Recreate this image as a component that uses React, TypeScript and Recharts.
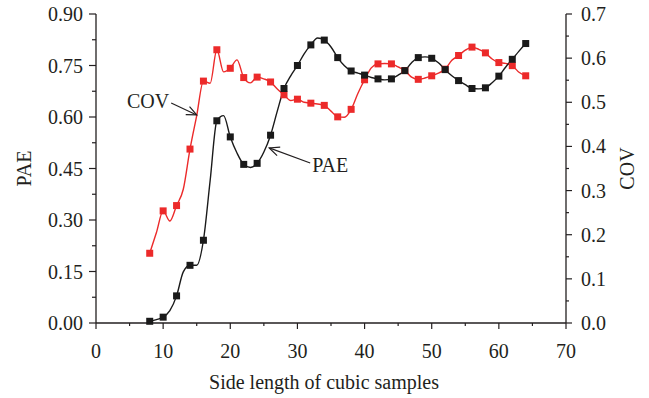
import React from 'react';
import { LineChart, Line, XAxis, YAxis, ReferenceLine } from 'recharts';

const sideLength = [8, 9, 10, 11, 12, 13, 14, 15, 16, 17, 18, 19, 20, 21, 22, 23, 24, 25, 26, 27, 28, 29, 30, 31, 32, 33, 34, 35, 36, 37, 38, 39, 40, 41, 42, 43, 44, 45, 46, 47, 48, 49, 50, 51, 52, 53, 54, 55, 56, 57, 58, 59, 60, 61, 62, 63, 64];
const paeValues = [0.005, 0.010, 0.017, 0.036, 0.079, 0.149, 0.168, 0.168, 0.241, 0.415, 0.589, 0.604, 0.542, 0.495, 0.462, 0.453, 0.465, 0.498, 0.547, 0.617, 0.683, 0.720, 0.750, 0.784, 0.810, 0.830, 0.824, 0.804, 0.773, 0.749, 0.734, 0.728, 0.722, 0.715, 0.711, 0.708, 0.711, 0.722, 0.735, 0.758, 0.773, 0.775, 0.771, 0.758, 0.738, 0.720, 0.706, 0.694, 0.683, 0.682, 0.685, 0.700, 0.719, 0.745, 0.768, 0.792, 0.814];
const covValues = [0.158, 0.205, 0.254, 0.231, 0.266, 0.303, 0.394, 0.470, 0.548, 0.543, 0.619, 0.569, 0.577, 0.596, 0.556, 0.544, 0.557, 0.553, 0.546, 0.530, 0.517, 0.504, 0.507, 0.500, 0.498, 0.496, 0.493, 0.480, 0.467, 0.466, 0.484, 0.520, 0.551, 0.578, 0.587, 0.588, 0.587, 0.580, 0.572, 0.557, 0.552, 0.555, 0.560, 0.566, 0.575, 0.595, 0.606, 0.618, 0.625, 0.620, 0.612, 0.598, 0.590, 0.588, 0.583, 0.568, 0.560];

const xTicks = [0, 5, 10, 15, 20, 25, 30, 35, 40, 45, 50, 55, 60, 65, 70];
const paeTicks = [0, 0.075, 0.15, 0.225, 0.3, 0.375, 0.45, 0.525, 0.6, 0.675, 0.75, 0.825, 0.9];
const covTicks = [0, 0.05, 0.1, 0.15, 0.2, 0.25, 0.3, 0.35, 0.4, 0.45, 0.5, 0.55, 0.6, 0.65, 0.7];

const xTitle = 'Side length of cubic samples';
const paeTitle = 'PAE';
const covTitle = 'COV';

const data = sideLength.map((x, i) => ({ x, pae: paeValues[i], cov: covValues[i] }));

const FONT = '"Liberation Serif", "Times New Roman", serif';
const INK = '#231f20';
const RED = '#ec2a2a';
const BLACK = '#1a1a1a';
const FS = 20;

const isMajor = (ticks: number[], v: number) => {
  const i = ticks.findIndex((t) => Math.abs(t - v) < 1e-9);
  return i % 2 === 0;
};

const LeftTick = (props: any) => {
  const { x, y, payload } = props;
  const major = isMajor(paeTicks, payload.value);
  const len = major ? 7 : 4;
  return (
    <g>
      <line x1={x} y1={y} x2={x - len} y2={y} stroke={INK} strokeWidth={1.2} />
      {major && (
        <text x={x - 13} y={y} textAnchor="end" dominantBaseline="central" fontFamily={FONT} fontSize={FS} fill={INK}>
          {payload.value.toFixed(2)}
        </text>
      )}
    </g>
  );
};

const RightTick = (props: any) => {
  const { x, y, payload } = props;
  const major = isMajor(covTicks, payload.value);
  const len = major ? 6 : 3;
  return (
    <g>
      <line x1={x} y1={y} x2={x + len} y2={y} stroke={INK} strokeWidth={1.2} />
      {major && (
        <text x={x + 15} y={y} textAnchor="start" dominantBaseline="central" fontFamily={FONT} fontSize={FS} fill={INK}>
          {payload.value.toFixed(1)}
        </text>
      )}
    </g>
  );
};

const BottomTick = (props: any) => {
  const { x, y, payload } = props;
  const major = isMajor(xTicks, payload.value);
  const len = major ? 6 : 3;
  return (
    <g>
      <line x1={x} y1={y} x2={x} y2={y + len} stroke={INK} strokeWidth={1.2} />
      {major && (
        <text x={x} y={y + 28} textAnchor="middle" dominantBaseline="central" fontFamily={FONT} fontSize={FS} fill={INK}>
          {String(payload.value)}
        </text>
      )}
    </g>
  );
};

const TopTick = (props: any) => {
  const { x, y } = props;
  return <line x1={x} y1={y} x2={x} y2={y - 4} stroke={INK} strokeWidth={1.2} />;
};

const squareDot = (color: string) => (props: any) => {
  const { cx, cy, payload, index } = props;
  if (payload.x % 2 !== 0 || cx == null || cy == null) return <g key={`d${index}`} />;
  const s = 7;
  return <rect key={`d${index}`} x={cx - s / 2} y={cy - s / 2} width={s} height={s} fill={color} />;
};

const arrowShape = (text: string, side: 'left' | 'right') => (props: any) => {
  const { x1, y1, x2, y2 } = props;
  if (x1 == null) return <g />;
  const ang = Math.atan2(y2 - y1, x2 - x1);
  const L = 11;
  const spread = 0.42;
  const a1x = x2 - L * Math.cos(ang - spread);
  const a1y = y2 - L * Math.sin(ang - spread);
  const a2x = x2 - L * Math.cos(ang + spread);
  const a2y = y2 - L * Math.sin(ang + spread);
  return (
    <g>
      <line x1={x1} y1={y1} x2={x2} y2={y2} stroke={INK} strokeWidth={1.2} />
      <polyline points={`${a1x},${a1y} ${x2},${y2} ${a2x},${a2y}`} fill="none" stroke={INK} strokeWidth={1.2} />
      <text
        x={side === 'left' ? x1 - 2 : x1 + 2}
        y={side === 'left' ? y1 - 2 : y1 + 2}
        textAnchor={side === 'left' ? 'end' : 'start'}
        dominantBaseline="central"
        fontFamily={FONT}
        fontSize={FS}
        fill={INK}
      >
        {text}
      </text>
    </g>
  );
};

const leftTitle = (p: any) => {
  const vb = p.viewBox;
  const cx = vb.x + 24;
  const cy = vb.y + vb.height / 2;
  return (
    <text x={cx} y={cy} transform={`rotate(-90 ${cx} ${cy})`} textAnchor="middle" dominantBaseline="central" fontFamily={FONT} fontSize={FS} fill={INK}>
      {paeTitle}
    </text>
  );
};

const rightTitle = (p: any) => {
  const vb = p.viewBox;
  const cx = vb.x + 61;
  const cy = vb.y + vb.height / 2;
  return (
    <text x={cx} y={cy} transform={`rotate(-90 ${cx} ${cy})`} textAnchor="middle" dominantBaseline="central" fontFamily={FONT} fontSize={FS} fill={INK}>
      {covTitle}
    </text>
  );
};

const bottomTitle = (p: any) => {
  const vb = p.viewBox;
  return (
    <text x={vb.x + vb.width / 2 - 7} y={vb.y + 59} textAnchor="middle" dominantBaseline="central" fontFamily={FONT} fontSize={FS} fill={INK}>
      {xTitle}
    </text>
  );
};

export default function App() {
  return (
    <div style={{ position: 'absolute', left: 0, top: 0, background: '#fff' }}>
      <LineChart width={649} height={398} data={data} margin={{ top: 14, right: 0, left: 0, bottom: 0 }}>
        <XAxis
          xAxisId="bottom"
          dataKey="x"
          type="number"
          domain={[0, 70]}
          ticks={xTicks}
          interval={0}
          height={75}
          tickSize={0}
          tickMargin={0}
          tick={BottomTick}
          axisLine={{ stroke: INK, strokeWidth: 1.3 }}
          tickLine={false}
          label={bottomTitle}
        />
        <XAxis
          xAxisId="top"
          orientation="top"
          dataKey="x"
          type="number"
          domain={[0, 70]}
          ticks={xTicks}
          interval={0}
          height={0}
          tickSize={0}
          tickMargin={0}
          tick={TopTick}
          axisLine={{ stroke: INK, strokeWidth: 1.3 }}
          tickLine={false}
        />
        <YAxis
          yAxisId="pae"
          orientation="left"
          type="number"
          domain={[0, 0.9]}
          ticks={paeTicks}
          interval={0}
          width={96}
          tickSize={0}
          tickMargin={0}
          tick={LeftTick}
          axisLine={{ stroke: INK, strokeWidth: 1.3 }}
          tickLine={false}
          label={leftTitle}
        />
        <YAxis
          yAxisId="cov"
          orientation="right"
          type="number"
          domain={[0, 0.7]}
          ticks={covTicks}
          interval={0}
          width={83}
          tickSize={0}
          tickMargin={0}
          tick={RightTick}
          axisLine={{ stroke: INK, strokeWidth: 1.3 }}
          tickLine={false}
          label={rightTitle}
        />
        <Line
          xAxisId="bottom"
          yAxisId="cov"
          dataKey="cov"
          type="monotone"
          stroke={RED}
          strokeWidth={1.4}
          dot={squareDot(RED)}
          activeDot={false}
          isAnimationActive={false}
        />
        <Line
          xAxisId="bottom"
          yAxisId="pae"
          dataKey="pae"
          type="monotone"
          stroke={BLACK}
          strokeWidth={1.4}
          dot={squareDot(BLACK)}
          activeDot={false}
          isAnimationActive={false}
        />
        <ReferenceLine
          xAxisId="bottom"
          yAxisId="pae"
          segment={[{ x: 11.2, y: 0.641 }, { x: 15.0, y: 0.606 }]}
          shape={arrowShape(covTitle, 'left')}
        />
        <ReferenceLine
          xAxisId="bottom"
          yAxisId="pae"
          segment={[{ x: 31.9, y: 0.466 }, { x: 25.8, y: 0.51 }]}
          shape={arrowShape(paeTitle, 'right')}
        />
      </LineChart>
    </div>
  );
}
